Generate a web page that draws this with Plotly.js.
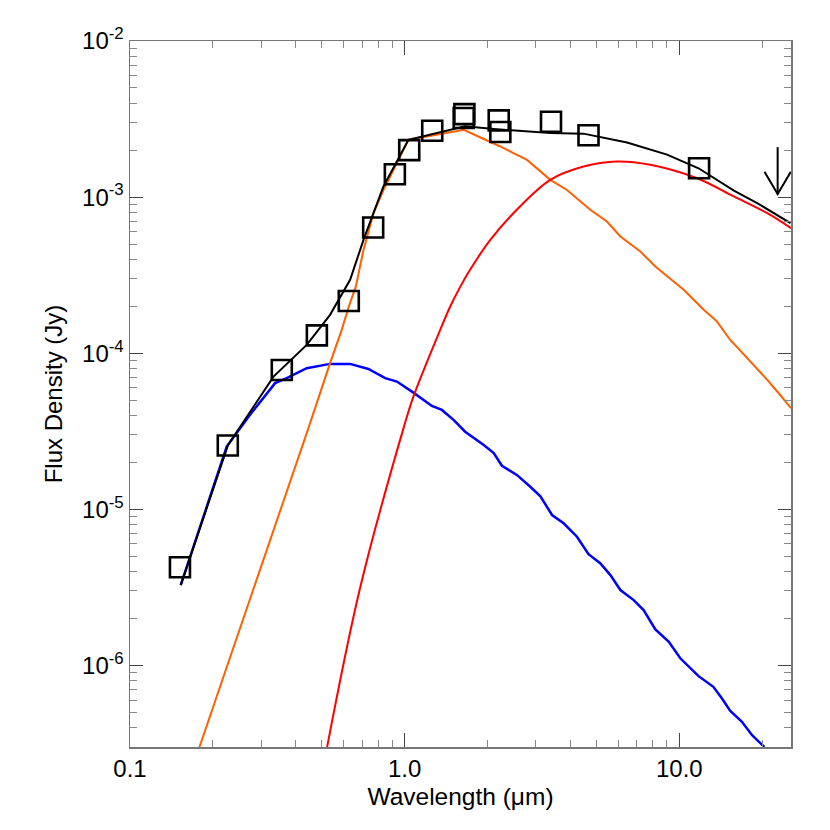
<!DOCTYPE html>
<html>
<head>
<meta charset="utf-8">
<script src="https://cdn.plot.ly/plotly-3.0.1.min.js"></script>
<style>html,body{margin:0;padding:0;background:#fff}</style>
</head>
<body>
<div id="chart" style="width:830px;height:830px"></div>
<script>
// Observed photometry (squares)
const obsWave = [0.152, 0.227, 0.357, 0.479, 0.626, 0.768, 0.921, 1.039, 1.26, 1.65, 1.64, 2.20, 2.23, 3.41, 4.67, 11.8];
const obsFlux = [4.25e-6, 2.56e-5, 7.8e-5, 1.30e-4, 2.16e-4, 6.38e-4, 1.40e-3, 2.0e-3, 2.66e-3, 3.40e-3, 3.21e-3, 3.10e-3, 2.61e-3, 3.04e-3, 2.49e-3, 1.53e-3];

// Upper limit (arrow)
const ulWave = [22.8];
const ulFlux = [2.09e-3];

// Hot component (blue)
const hotWave = [0.153, 0.175, 0.201, 0.225, 0.2735, 0.3375, 0.372, 0.440, 0.535, 0.633, 0.738, 0.849, 0.937, 1.076, 1.256, 1.366, 1.51, 1.66, 1.94, 2.11, 2.26, 2.56, 2.86, 3.12, 3.44, 3.79, 4.24, 4.67, 5.15, 5.61, 6.10, 6.82, 7.41, 8.18, 9.14, 10.08, 11.75, 13.3, 14.3, 15.3, 16.9, 18.4, 20.4];
const hotFlux = [3.27e-6, 6.67e-6, 1.40e-5, 2.52e-5, 4.03e-5, 6.43e-5, 6.92e-5, 8.02e-5, 8.54e-5, 8.54e-5, 7.92e-5, 6.92e-5, 6.58e-5, 5.59e-5, 4.59e-5, 4.33e-5, 3.73e-5, 3.14e-5, 2.58e-5, 2.29e-5, 1.90e-5, 1.66e-5, 1.40e-5, 1.21e-5, 9.19e-6, 8.13e-6, 6.67e-6, 5.16e-6, 4.51e-6, 3.79e-6, 3.04e-6, 2.62e-6, 2.26e-6, 1.70e-6, 1.42e-6, 1.11e-6, 8.53e-7, 7.29e-7, 6.14e-7, 5.12e-7, 4.35e-7, 3.57e-7, 3.0e-7];

// Stellar photosphere (orange)
const starWave = [0.179, 0.283, 0.3236, 0.446, 0.535, 0.590, 0.626, 0.664, 0.708, 0.770, 0.837, 1.032, 1.59, 1.64, 2.23, 2.79, 3.39, 3.90, 4.74, 5.45, 6.10, 7.21, 8.18, 10.37, 12.27, 13.7, 15.3, 18.4, 20.9, 23.0, 25.5];
const starFlux = [3.0e-7, 3.12e-6, 6.35e-6, 3.30e-5, 8.63e-5, 1.41e-4, 1.99e-4, 2.67e-4, 4.59e-4, 7.89e-4, 1.11e-3, 2.33e-3, 2.67e-3, 2.70e-3, 2.11e-3, 1.73e-3, 1.29e-3, 1.11e-3, 8.30e-4, 6.98e-4, 5.59e-4, 4.48e-4, 3.59e-4, 2.55e-4, 1.90e-4, 1.60e-4, 1.22e-4, 8.63e-5, 6.75e-5, 5.54e-5, 4.44e-5];

// Dust component (red)
const dustWave = [0.522, 0.688, 0.99, 1.076, 1.347, 1.465, 1.593, 1.73, 2.05, 2.56, 3.39, 4.48, 5.93, 7.84, 11.6, 15.8, 20.9, 25.5];
const dustFlux = [3.0e-7, 3.13e-6, 3.30e-5, 5.27e-5, 1.41e-4, 1.99e-4, 2.66e-4, 3.42e-4, 5.32e-4, 8.30e-4, 1.29e-3, 1.57e-3, 1.69e-3, 1.61e-3, 1.32e-3, 1.01e-3, 7.89e-4, 6.33e-4];

// Total model (black)
const totalWave = [0.153, 0.227, 0.333, 0.440, 0.535, 0.633, 0.708, 0.837, 1.032, 1.55, 1.66, 2.11, 3.39, 4.48, 6.45, 9.02, 11.75, 15.8, 19.2, 25.4];
const totalFlux = [3.27e-6, 2.56e-5, 7.08e-5, 1.13e-4, 1.76e-4, 2.95e-4, 5.32e-4, 1.17e-3, 2.33e-3, 2.77e-3, 2.84e-3, 2.73e-3, 2.57e-3, 2.55e-3, 2.24e-3, 1.87e-3, 1.53e-3, 1.10e-3, 9.16e-4, 6.81e-4];

// Tick labels
const xTickVals = [0.1, 1, 10];
const xTickText = ['0.1', '1.0', '10.0'];
const yTickVals = [1e-6, 1e-5, 1e-4, 1e-3, 1e-2];
const yTickText = ['10<sup>-6</sup>', '10<sup>-5</sup>', '10<sup>-4</sup>', '10<sup>-3</sup>', '10<sup>-2</sup>'];

// Build arrow geometry from the upper limit
const arrowTraces = [];
ulWave.forEach((w, i) => {
  const top = ulFlux[i];
  const tip = top / 2;
  const barbY = tip * Math.pow(10, 0.143);
  const dx = Math.pow(10, 0.048);
  arrowTraces.push({
    x: [w, w, null, w / dx, w, w * dx],
    y: [top, tip, null, barbY, tip, barbY],
    mode: 'lines', type: 'scatter', connectgaps: false,
    line: {color: 'black', width: 2}, hoverinfo: 'skip', showlegend: false
  });
});

const traces = [
  {x: hotWave, y: hotFlux, mode: 'lines', type: 'scatter', line: {color: '#0000ff', width: 2.5}},
  {x: starWave, y: starFlux, mode: 'lines', type: 'scatter', line: {color: '#ff6000', width: 2}},
  {x: dustWave, y: dustFlux, mode: 'lines', type: 'scatter', line: {color: '#ff0000', width: 2, shape: 'spline', smoothing: 1}},
  {x: totalWave, y: totalFlux, mode: 'lines', type: 'scatter', line: {color: '#000000', width: 2}},
  {x: obsWave, y: obsFlux, mode: 'markers', type: 'scatter', cliponaxis: false,
   marker: {symbol: 'square-open', size: 20, color: '#000000', line: {width: 2.6, color: '#000000'}}},
  ...arrowTraces
];

const axisCommon = {
  type: 'log', showgrid: false, zeroline: false,
  showline: true, linecolor: '#777', linewidth: 1.5, mirror: 'allticks',
  ticks: 'inside', tickcolor: '#444', tickwidth: 1, tickmode: 'array',
  tickfont: {family: 'Liberation Sans, Arial, sans-serif', size: 24, color: '#000'},
  minor: {ticks: 'inside', ticklen: 7, tickcolor: '#888', tickwidth: 1, dtick: 'D1', showgrid: false}
};

const layout = {
  width: 830, height: 830,
  margin: {l: 130, r: 39, t: 41, b: 83},
  paper_bgcolor: '#fff', plot_bgcolor: '#fff',
  showlegend: false,
  font: {family: 'Liberation Sans, Arial, sans-serif', color: '#000'},
  xaxis: Object.assign({}, axisCommon, {
    range: [-1, Math.log10(25.5)], tickvals: xTickVals, ticktext: xTickText, ticklen: 14,
    title: {text: 'Wavelength (\u03bcm)', font: {size: 24.5, color: '#000'}, standoff: 6}
  }),
  yaxis: Object.assign({}, axisCommon, {
    range: [Math.log10(3e-7), -2], tickvals: yTickVals, ticktext: yTickText, ticklen: 13,
    title: {text: 'Flux Density (Jy)', font: {size: 24, color: '#000'}, standoff: 12}
  })
};

Plotly.newPlot('chart', traces, layout, {displayModeBar: false, staticPlot: true});
</script>
</body>
</html>
